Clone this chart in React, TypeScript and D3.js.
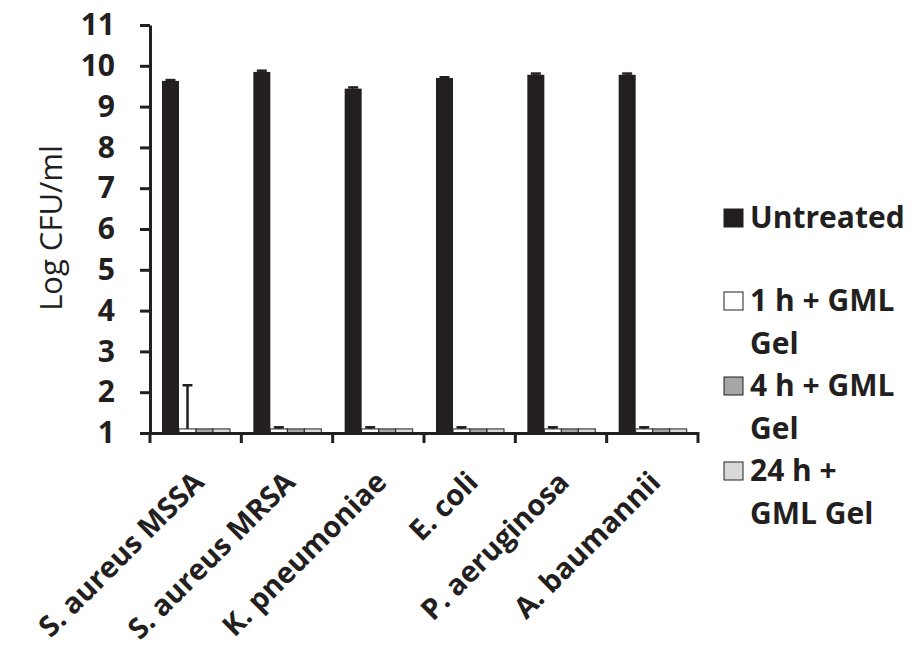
import React, { useEffect, useRef } from 'react';
import * as d3 from 'd3';

const categories = ['S. aureus MSSA', 'S. aureus MRSA', 'K. pneumoniae', 'E. coli', 'P. aeruginosa', 'A. baumannii'];
const seriesNames = ['Untreated', '1 h + GML Gel', '4 h + GML Gel', '24 h + GML Gel'];
const untreated = [9.63, 9.85, 9.44, 9.70, 9.78, 9.78];
const h1 = [1.1, 1.1, 1.1, 1.1, 1.1, 1.1];
const h4 = [1.1, 1.1, 1.1, 1.1, 1.1, 1.1];
const h24 = [1.1, 1.1, 1.1, 1.1, 1.1, 1.1];
const untreatedErr = [0.02, 0.03, 0.03, 0.02, 0.03, 0.03];
const h1Err = [1.07, 0.04, 0.04, 0.04, 0.04, 0.04];
const h4Err = [0, 0, 0, 0, 0, 0];
const h24Err = [0, 0, 0, 0, 0, 0];
const yTicks = [1, 2, 3, 4, 5, 6, 7, 8, 9, 10, 11];
const legendLines = [['Untreated'], ['1 h + GML', 'Gel'], ['4 h + GML', 'Gel'], ['24 h +', 'GML Gel']];

const colors = ['#231f20', '#ffffff', '#a6a6a6', '#d9d9d9'];
const ink = '#231f20';

function Chart() {
  const svgRef = useRef(null);

  useEffect(() => {
    const svg = d3.select(svgRef.current);
    svg.selectAll('*').remove();

    const left = 150, right = 698, top = 25, bottom = 433;
    const values = [untreated, h1, h4, h24];
    const errs = [untreatedErr, h1Err, h4Err, h24Err];

    const x0 = d3.scaleBand().domain(categories).range([left, right]);
    const x1 = d3.scaleBand().domain(seriesNames).range([12, 80]);
    const y = d3.scaleLinear().domain([1, 11]).range([bottom, top]);

    const font = "'Open Sans', sans-serif";

    // bars
    const groups = svg.append('g').selectAll('g')
      .data(categories)
      .enter().append('g')
      .attr('transform', d => `translate(${x0(d)},0)`);

    seriesNames.forEach((s, si) => {
      groups.append('rect')
        .attr('x', x1(s))
        .attr('width', x1.bandwidth())
        .attr('y', (d, i) => y(values[si][i]))
        .attr('height', (d, i) => y(1) - y(values[si][i]))
        .attr('fill', colors[si])
        .attr('stroke', si === 0 ? 'none' : ink)
        .attr('stroke-width', 1);

      groups.each(function (d, i) {
        const e = errs[si][i];
        if (!e) return;
        const cx = x1(s) + x1.bandwidth() / 2;
        const g = d3.select(this);
        g.append('line')
          .attr('x1', cx).attr('x2', cx)
          .attr('y1', y(values[si][i])).attr('y2', y(values[si][i] + e))
          .attr('stroke', ink).attr('stroke-width', 2.5);
        g.append('line')
          .attr('x1', cx - 5).attr('x2', cx + 5)
          .attr('y1', y(values[si][i] + e)).attr('y2', y(values[si][i] + e))
          .attr('stroke', ink).attr('stroke-width', 2.5);
      });
    });

    // y axis
    const yAxis = svg.append('g')
      .attr('transform', `translate(${left},0)`)
      .call(d3.axisLeft(y).tickValues(yTicks).tickSize(10).tickPadding(25).tickSizeOuter(0));
    yAxis.select('.domain').attr('stroke', ink).attr('stroke-width', 3);
    yAxis.selectAll('.tick line').attr('stroke', ink).attr('stroke-width', 3);
    yAxis.selectAll('text')
      .attr('fill', ink)
      .style('font-family', font)
      .style('font-weight', 700)
      .style('font-size', '30px');

    // x axis
    const xAxis = svg.append('g')
      .attr('transform', `translate(0,${bottom})`)
      .call(d3.axisBottom(x0).tickSize(0).tickSizeOuter(0).tickFormat(() => ''));
    xAxis.select('.domain').attr('stroke', ink).attr('stroke-width', 3);
    const bounds = categories.map(c => x0(c)).concat([right]);
    xAxis.selectAll('.sep')
      .data(bounds)
      .enter().append('line')
      .attr('x1', d => d).attr('x2', d => d)
      .attr('y1', -1).attr('y2', 10)
      .attr('stroke', ink).attr('stroke-width', 3);

    svg.append('g').selectAll('text')
      .data(categories)
      .enter().append('text')
      .attr('transform', d => `translate(${x0(d) + x0.bandwidth() / 2 + 10},484) rotate(-45)`)
      .attr('text-anchor', 'end')
      .attr('fill', ink)
      .style('font-family', font)
      .style('font-weight', 700)
      .style('font-size', '29px')
      .text(d => d);

    // y title
    svg.append('text')
      .attr('transform', `translate(62,228) rotate(-90)`)
      .attr('text-anchor', 'middle')
      .attr('fill', ink)
      .style('font-family', font)
      .style('font-size', '31px')
      .text('Log CFU/ml');

    // legend
    const rowCenters = [218, 301, 386, 471];
    const lineGap = 42.5;
    legendLines.forEach((lines, i) => {
      const cy = rowCenters[i];
      svg.append('rect')
        .attr('x', 724).attr('y', cy - 9)
        .attr('width', 19).attr('height', 18)
        .attr('fill', colors[i])
        .attr('stroke', ink).attr('stroke-width', 1);
      lines.forEach((t, j) => {
        svg.append('text')
          .attr('x', 750)
          .attr('y', cy + 10 + j * lineGap)
          .attr('fill', ink)
          .style('font-family', font)
          .style('font-weight', 700)
          .style('font-size', '30px')
          .text(t);
      });
    });
  }, []);

  return (
    <svg ref={svgRef} width={918} height={653}
      style={{ position: 'absolute', left: 0, top: 0, background: '#fff' }} />
  );
}

export default function App() {
  return <Chart />;
}
